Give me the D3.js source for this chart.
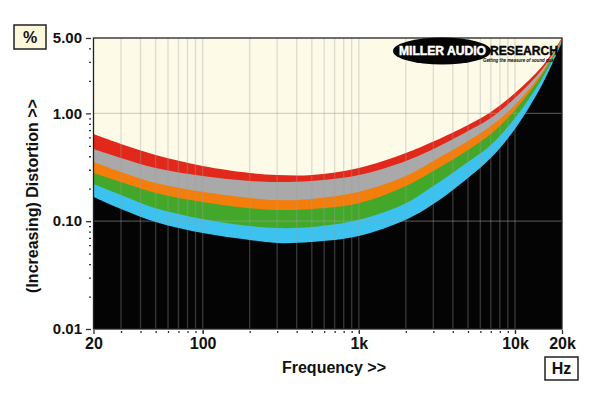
<!DOCTYPE html>
<html>
<head>
<meta charset="utf-8">
<script src="https://cdn.jsdelivr.net/npm/d3@7"></script>
<style>
  body { margin: 0; background: #fff; }
  svg { display: block; font-family: "Liberation Sans", Arial, sans-serif; }
</style>
</head>
<body>
<svg id="chart" width="600" height="399"></svg>
<script>
const freqs = [20, 30, 50, 100, 200, 300, 500, 1000, 2000, 3000, 5000, 7000, 10000, 15000, 20000];

// upper edge of each band, distortion in %
const redTop    = [0.643, 0.520, 0.411, 0.325, 0.280, 0.268, 0.268, 0.311, 0.429, 0.548, 0.780, 1.03, 1.545, 2.75, 5.00];
const greyTop   = [0.467, 0.385, 0.311, 0.262, 0.236, 0.231, 0.236, 0.268, 0.362, 0.467, 0.686, 0.906, 1.388, 2.58, 4.89];
const orangeTop = [0.354, 0.286, 0.226, 0.187, 0.164, 0.157, 0.161, 0.187, 0.262, 0.362, 0.554, 0.764, 1.196, 2.42, 4.79];
const greenTop  = [0.280, 0.231, 0.183, 0.151, 0.132, 0.127, 0.130, 0.147, 0.212, 0.292, 0.457, 0.643, 1.075, 2.32, 4.74];
const blueTop   = [0.221, 0.175, 0.132, 0.105, 0.0902, 0.0864, 0.0883, 0.103, 0.147, 0.212, 0.354, 0.509, 0.906, 2.13, 4.69];
// lower edge of the blue band (black below)
const blueFloor = [0.168, 0.130, 0.0983, 0.0777, 0.0669, 0.0628, 0.0641, 0.0729, 0.103, 0.144, 0.252, 0.385, 0.716, 1.87, 4.59];

const yTicks  = [5, 1, 0.1, 0.01];
const yLabels = ["5.00", "1.00", "0.10", "0.01"];
const xTicks  = [20, 100, 1000, 10000, 20000];
const xLabels = ["20", "100", "1k", "10k", "20k"];

const svg = d3.select("#chart");
const pl = 93.5, pr = 562, pt = 38, pb = 329;

const x = d3.scaleLog().domain([20, 20000]).range([pl, pr]);
const y = d3.scaleLog().domain([0.01, 5]).range([pb, pt]);

svg.append("defs").append("clipPath").attr("id", "plot")
  .append("rect").attr("x", pl).attr("y", pt)
  .attr("width", pr - pl).attr("height", pb - pt);

const plot = svg.append("g").attr("clip-path", "url(#plot)");

plot.append("rect")
  .attr("x", pl).attr("y", pt)
  .attr("width", pr - pl).attr("height", pb - pt)
  .attr("fill", "#fdfbe8");

// paint each band from its top edge down, the next one covers the rest
const bands = [
  { v: redTop,    c: "#e2281a" },
  { v: greyTop,   c: "#a9a9a9" },
  { v: orangeTop, c: "#f47e0c" },
  { v: greenTop,  c: "#43a829" },
  { v: blueTop,   c: "#3cc2ee" },
  { v: blueFloor, c: "#040404" }
];

const area = d3.area()
  .x(d => x(d[0]))
  .y0(y(0.01))
  .y1(d => y(d[1]))
  .curve(d3.curveCatmullRom.alpha(0.5));

bands.forEach(b => {
  plot.append("path")
    .datum(freqs.map((f, i) => [f, b.v[i]]))
    .attr("d", area)
    .attr("fill", b.c);
});

// grid on top, faint
const gridFreqs = [];
for (let dec = 10; dec <= 10000; dec *= 10) {
  for (let m = 1; m <= 9; m++) {
    const f = dec * m;
    if (f > 20 && f < 20000) gridFreqs.push(f);
  }
}

plot.selectAll(".vgrid").data(gridFreqs).enter().append("line")
  .attr("x1", d => x(d)).attr("x2", d => x(d))
  .attr("y1", pt).attr("y2", pb)
  .attr("stroke", "#a0a0a0").attr("stroke-opacity", 0.32).attr("stroke-width", 1.4);

plot.selectAll(".hgrid").data([1, 0.1]).enter().append("line")
  .attr("x1", pl).attr("x2", pr)
  .attr("y1", d => y(d)).attr("y2", d => y(d))
  .attr("stroke", "#a0a0a0").attr("stroke-opacity", 0.45).attr("stroke-width", 1.2);

svg.append("rect")
  .attr("x", pl).attr("y", pt)
  .attr("width", pr - pl).attr("height", pb - pt)
  .attr("fill", "none").attr("stroke", "#222").attr("stroke-width", 1.3);

// axes
const yMinor = [];
[0.01, 0.1, 1].forEach(dec => {
  for (let m = 2; m <= 9; m++) {
    const v = dec * m;
    if (v < 5) yMinor.push(v);
  }
});

const yAxis = svg.append("g")
  .attr("transform", "translate(91,0)")
  .call(d3.axisLeft(y).tickValues(yTicks).tickFormat((d, i) => yLabels[i])
    .tickSize(5).tickSizeOuter(0).tickPadding(4));

svg.append("g")
  .attr("transform", "translate(91,0)")
  .call(d3.axisLeft(y).tickValues(yMinor).tickFormat("").tickSize(2).tickSizeOuter(0));

const xAxis = svg.append("g")
  .attr("transform", "translate(0,330)")
  .call(d3.axisBottom(x).tickValues(xTicks).tickFormat((d, i) => xLabels[i])
    .tickSize(4).tickSizeOuter(0).tickPadding(4));

svg.append("g")
  .attr("transform", "translate(0,331)")
  .call(d3.axisBottom(x).tickValues(gridFreqs).tickFormat("").tickSize(2).tickSizeOuter(0));

svg.selectAll(".domain").remove();
svg.selectAll(".tick line").attr("stroke", "#333").attr("stroke-width", 1.3);

yAxis.selectAll("text")
  .attr("font-size", 15).attr("font-weight", "bold").attr("fill", "#111")
  .style("font-family", "Liberation Sans, Arial, sans-serif");

xAxis.selectAll("text")
  .attr("font-size", 16).attr("font-weight", "bold").attr("fill", "#111")
  .style("font-family", "Liberation Sans, Arial, sans-serif");

// titles
svg.append("text")
  .attr("x", 334).attr("y", 373)
  .attr("text-anchor", "middle")
  .attr("font-size", 16).attr("font-weight", "bold").attr("fill", "#111")
  .text("Frequency >>");

svg.append("text")
  .attr("transform", "translate(38,196) rotate(-90)")
  .attr("text-anchor", "middle")
  .attr("font-size", 16).attr("font-weight", "bold").attr("fill", "#111")
  .text("(Increasing) Distortion >>");

// unit boxes
svg.append("rect")
  .attr("x", 14).attr("y", 25).attr("width", 32).attr("height", 24)
  .attr("fill", "#fbf8dc").attr("stroke", "#222").attr("stroke-width", 1.5);
svg.append("text")
  .attr("x", 30).attr("y", 43).attr("text-anchor", "middle")
  .attr("font-size", 16).attr("font-weight", "bold").attr("fill", "#111")
  .text("%");

svg.append("rect")
  .attr("x", 545).attr("y", 357).attr("width", 33).attr("height", 23)
  .attr("fill", "#fff").attr("stroke", "#222").attr("stroke-width", 1.5);
svg.append("text")
  .attr("x", 561.5).attr("y", 374).attr("text-anchor", "middle")
  .attr("font-size", 16).attr("font-weight", "bold").attr("fill", "#111")
  .text("Hz");

// logo
const logo = svg.append("g");
logo.append("ellipse")
  .attr("cx", 442).attr("cy", 51).attr("rx", 49).attr("ry", 13.5)
  .attr("fill", "#050505");
logo.append("text")
  .attr("x", 399).attr("y", 55)
  .attr("font-size", 12.5).attr("font-weight", "bold").attr("fill", "#fff")
  .attr("stroke", "#fff").attr("stroke-width", 0.5)
  .attr("textLength", 87).attr("lengthAdjust", "spacingAndGlyphs")
  .text("MILLER AUDIO");
logo.append("text")
  .attr("x", 490).attr("y", 54.5)
  .attr("font-size", 12).attr("font-weight", "bold").attr("fill", "#050505")
  .attr("stroke", "#050505").attr("stroke-width", 0.4)
  .attr("textLength", 68).attr("lengthAdjust", "spacingAndGlyphs")
  .text("RESEARCH");
logo.append("text")
  .attr("x", 483).attr("y", 62.3)
  .attr("font-size", 5.5).attr("font-weight", "bold").attr("font-style", "italic")
  .attr("fill", "#050505")
  .attr("textLength", 77).attr("lengthAdjust", "spacingAndGlyphs")
  .text("Getting the measure of sound quality");
</script>
</body>
</html>
